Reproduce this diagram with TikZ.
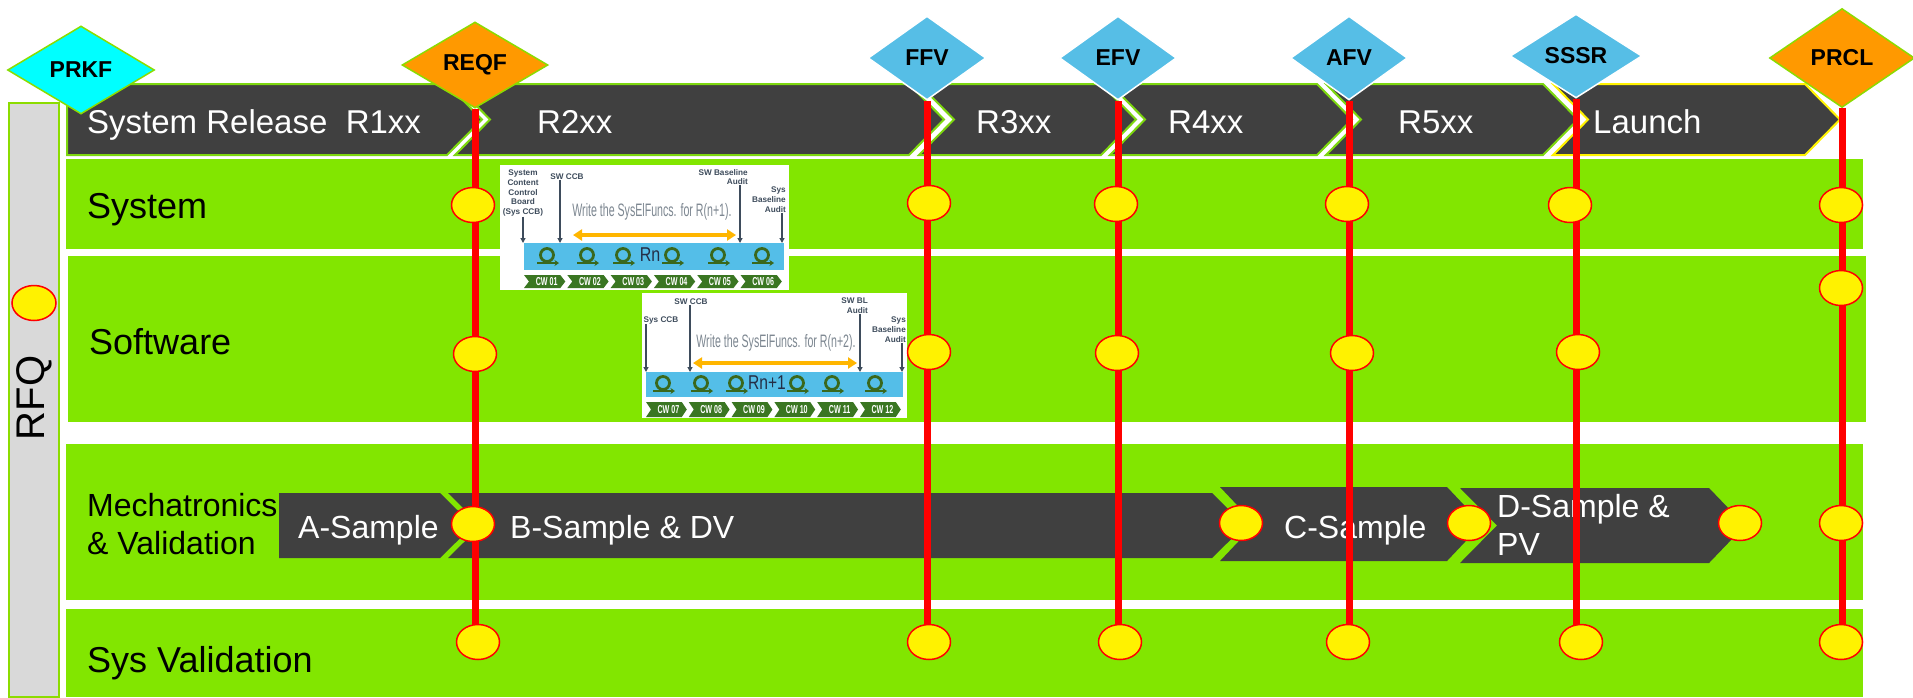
\documentclass[tikz,border=0pt]{standalone}
\usepackage{fontspec}
\usepackage{graphicx}
\setmainfont{Liberation Sans}
\usetikzlibrary{shapes.geometric,arrows.meta}

\definecolor{lanegreen}{RGB}{130,230,0}
\definecolor{chevgrey}{RGB}{64,64,64}
\definecolor{chevedge}{RGB}{125,215,15}
\definecolor{rfqgrey}{RGB}{217,217,217}
\definecolor{gateorange}{RGB}{255,153,0}
\definecolor{gatecyan}{RGB}{0,255,255}
\definecolor{gateblue}{RGB}{86,190,230}
\definecolor{gateedge}{RGB}{140,220,0}
\definecolor{slate}{RGB}{62,76,92}
\definecolor{notegrey}{RGB}{125,135,145}
\definecolor{barblue}{RGB}{84,190,232}
\definecolor{spanorange}{RGB}{255,182,0}
\definecolor{cwgreen}{RGB}{58,118,34}
\definecolor{loopgreen}{RGB}{58,104,28}
\definecolor{navy}{RGB}{36,46,70}

\pgfdeclarelayer{lanes}
\pgfdeclarelayer{links}
\pgfsetlayers{lanes,links,main}

% horizontally condensed text
\newcommand\cond[2]{\scalebox{#1}[1]{#2}}
% iteration loop glyph: #1 x, #2 y
\newcommand\loopmark[2]{%
  \draw[loopline] (#1,#2-2) circle (6.5pt);
  \draw[loopline,-{Stealth[length=4.5pt,width=6pt]}] (#1-10,#2+6) -- (#1+12,#2+6);}
% row of six calendar-week chevrons: #1 x0, #2 top, #3 bottom, #4 pitch, #5 first week
\newcommand\cwrow[5]{%
  \foreach \k in {0,...,5} {
    \pgfmathsetmacro\xa{#1+\k*#4}
    \pgfmathsetmacro\ym{(#2+#3)/2}
    \pgfmathtruncatemacro\nn{#5+\k}
    \fill[cwgreen] (\xa,#2) -- (\xa+#4-7,#2) -- (\xa+#4-2,\ym) -- (\xa+#4-7,#3)
      -- (\xa,#3) -- (\xa+5,\ym) -- cycle;
    \node[cwtext] (cw\nn) at (\xa+#4/2+1,\ym) {\cond{0.62}{CW \ifnum\nn<10 0\fi\nn}};
  }}

\begin{document}
\begin{tikzpicture}[x=1pt,y=-1pt,
  lane/.style={fill=lanegreen},
  chev/.style={fill=chevgrey,draw=chevedge,line width=2pt,line join=miter},
  mchev/.style={fill=chevgrey},
  lanetext/.style={anchor=base west,inner sep=0pt,font=\fontsize{36}{42}\selectfont},
  reltext/.style={anchor=base west,inner sep=0pt,text=white,font=\fontsize{33}{38}\selectfont},
  mechtext/.style={inner sep=0pt,text=white,font=\fontsize{32}{38}\selectfont},
  gate/.style={diamond,inner sep=0pt,line width=1.5pt,font=\fontsize{23}{26}\selectfont\bfseries},
  mstone/.style={ellipse,fill=yellow,draw=red,line width=1.5pt,minimum width=43pt,minimum height=35pt,inner sep=0pt},
  redline/.style={draw=red,line width=7pt},
  tinylbl/.style={inner sep=0pt,text=slate,font=\fontsize{8.2}{9.8}\selectfont\bfseries},
  pin/.style={draw=slate,line width=1.2pt,-{Triangle[length=5pt,width=5pt]}},
  note/.style={inner sep=0pt,text=notegrey,font=\fontsize{18}{20}\selectfont},
  span/.style={draw=spanorange,line width=4pt,{Triangle[length=9pt,width=11pt]}-{Triangle[length=9pt,width=11pt]}},
  bar/.style={fill=barblue,inner sep=0pt},
  loopline/.style={draw=loopgreen,line width=2.8pt},
  cwtext/.style={inner sep=0pt,text=white,font=\fontsize{11.5}{12}\selectfont\bfseries},
  relname/.style={inner sep=0pt,text=navy,font=\fontsize{20}{22}\selectfont}
]
\useasboundingbox (0,0) rectangle (1913,697);

\begin{pgfonlayer}{lanes}
  \fill[white] (0,0) rectangle (1913,697);

  % RFQ column
  \fill[rfqgrey,draw=gateedge,line width=1.5pt] (9,103) rectangle (59,697);
  \node[rotate=90,inner sep=0pt,font=\fontsize{40}{44}\selectfont] (rfq) at (34,398) {RFQ};

  % swim lanes
  \fill[lane] (66,159) rectangle (1863,249);
  \fill[lane] (68,256) rectangle (1866,422);
  \fill[lane] (66,444) rectangle (1863,600);
  \fill[lane] (66,609) rectangle (1863,697);

  \node[lanetext] (lsys) at (87,218) {System};
  \node[lanetext] (lsw) at (89,354) {Software};
  \node[anchor=west,align=left,inner sep=0pt,font=\fontsize{32}{38}\selectfont] (lmech) at (87,524) {Mechatronics\\\& Validation};
  \node[lanetext] (lsv) at (87,672) {Sys Validation};

  % system release chevrons
  \path[chev] (67,84) -- (447,84) -- (482,119.5) -- (447,155) -- (67,155) -- cycle;
  \path[chev] (455,84) -- (909,84) -- (944,119.5) -- (909,155) -- (455,155) -- (490,119.5) -- cycle;
  \path[chev] (919,84) -- (1101,84) -- (1136,119.5) -- (1101,155) -- (919,155) -- (954,119.5) -- cycle;
  \path[chev] (1110,84) -- (1317,84) -- (1352,119.5) -- (1317,155) -- (1110,155) -- (1145,119.5) -- cycle;
  \path[chev] (1326,84) -- (1543,84) -- (1578,119.5) -- (1543,155) -- (1326,155) -- (1361,119.5) -- cycle;
  \path[chev,draw=yellow] (1553,84) -- (1805,84) -- (1840,119.5) -- (1805,155) -- (1553,155) -- (1588,119.5) -- cycle;

  \node[reltext] (r1) at (87,133) {System Release\ \ R1xx};
  \node[reltext] (r2) at (537,133) {R2xx};
  \node[reltext] (r3) at (976,133) {R3xx};
  \node[reltext] (r4) at (1168,133) {R4xx};
  \node[reltext] (r5) at (1398,133) {R5xx};
  \node[reltext] (r6) at (1593,133) {Launch};

  % hardware sample chevrons
  \path[mchev] (279,493) -- (440,493) -- (473,525.5) -- (440,558) -- (279,558) -- cycle;
  \path[mchev] (448,493) -- (1212,493) -- (1245,525.5) -- (1212,558) -- (448,558) -- (481,525.5) -- cycle;
  \path[mchev] (1220,487) -- (1447,487) -- (1482,524) -- (1447,561) -- (1220,561) -- (1255,524) -- cycle;
  \path[mchev] (1460,488) -- (1709,488) -- (1745,525.5) -- (1709,563) -- (1460,563) -- (1497,525.5) -- cycle;

  \node[mechtext,anchor=base west] (ma) at (298,538) {A-Sample};
  \node[mechtext,anchor=base west] (mb) at (510,538) {B-Sample \& DV};
  \node[mechtext,anchor=base west] (mc) at (1284,538) {C-Sample};
  \node[mechtext,anchor=west,align=left] (md) at (1497,525) {D-Sample \&\\PV};

  % sprint plan for Rn
  \fill[white] (500,165) rectangle (789,290);
  \node[tinylbl,align=center] (p1a) at (523,193) {System\\Content\\Control\\Board\\(Sys CCB)};
  \node[tinylbl] (p1b) at (567,177) {SW CCB};
  \node[tinylbl,align=right,anchor=north east] (p1c) at (748,169) {SW Baseline\\Audit};
  \node[tinylbl,align=right,anchor=north east] (p1d) at (786,187) {Sys\\Baseline\\Audit};
  \node[note] (p1n) at (652,212) {\cond{0.59}{Write the SysElFuncs. for R(n+1).}};
  \node[bar,minimum width=260pt,minimum height=27pt] (p1bar) at (654,256.5) {};
  \coordinate (p1t1) at (523,243);
  \coordinate (p1t2) at (560,243);
  \coordinate (p1t3) at (740,243);
  \coordinate (p1t4) at (782,243);
  \draw[pin] (p1t1 |- p1a.south) -- (p1t1);
  \draw[pin] (p1t2 |- p1b.south) -- (p1t2);
  \draw[pin] (p1t3 |- p1c.south) -- (p1t3);
  \draw[pin] (p1t4 |- p1d.south) -- (p1t4);
  \coordinate (p1s) at (573,235);
  \coordinate (p1e) at (736,235);
  \draw[span] (p1s) -- (p1e);
  \foreach \lx in {547,587,623,672,718,762} {\loopmark{\lx}{257}}
  \node[relname] (p1rn) at (650,255) {\cond{0.8}{Rn}};
  \cwrow{524}{275}{288}{43.3}{1}

  % sprint plan for Rn+1
  \fill[white] (642,293) rectangle (907,418);
  \node[tinylbl] (p2a) at (661,320) {Sys CCB};
  \node[tinylbl] (p2b) at (691,302) {SW CCB};
  \node[tinylbl,align=right,anchor=north east] (p2c) at (868,298) {SW BL\\Audit};
  \node[tinylbl,align=right,anchor=north east] (p2d) at (906,317) {Sys\\Baseline\\Audit};
  \node[note] (p2n) at (776,343) {\cond{0.59}{Write the SysElFuncs. for R(n+2).}};
  \node[bar,minimum width=257pt,minimum height=25pt] (p2bar) at (774.5,384.5) {};
  \coordinate (p2t1) at (646,372);
  \coordinate (p2t2) at (690,372);
  \coordinate (p2t3) at (860,372);
  \coordinate (p2t4) at (902,372);
  \draw[pin] (p2t1 |- p2a.south) -- (p2t1);
  \draw[pin] (p2t2 |- p2b.south) -- (p2t2);
  \draw[pin] (p2t3 |- p2c.south) -- (p2t3);
  \draw[pin] (p2t4 |- p2d.south) -- (p2t4);
  \coordinate (p2s) at (693,363);
  \coordinate (p2e) at (857,363);
  \draw[span] (p2s) -- (p2e);
  \foreach \lx in {663,701,736,797,832,875} {\loopmark{\lx}{385}}
  \node[relname] (p2rn) at (767,383) {\cond{0.78}{Rn+1}};
  \cwrow{646}{402}{417}{42.8}{7}
\end{pgfonlayer}

% quality gates
\node[gate,fill=gatecyan,draw=gateedge,minimum width=147pt,minimum height=88pt] (prkf) at (81,70) {PRKF};
\node[gate,fill=gateorange,draw=gateedge,minimum width=146pt,minimum height=86pt] (reqf) at (475,65) {REQF};
\node[gate,fill=gateblue,draw=white,minimum width=118pt,minimum height=84pt] (ffv) at (927,58) {FFV};
\node[gate,fill=gateblue,draw=white,minimum width=117pt,minimum height=84pt] (efv) at (1118,58) {EFV};
\node[gate,fill=gateblue,draw=white,minimum width=117pt,minimum height=84pt] (afv) at (1349,58) {AFV};
\node[gate,fill=gateblue,draw=white,minimum width=132pt,minimum height=84pt] (sssr) at (1576,56) {SSSR};
\node[gate,fill=gateorange,draw=gateedge,minimum width=145pt,minimum height=99pt] (prcl) at (1842,58) {PRCL};

% milestones
\node[mstone,minimum width=44pt] (rfqm) at (34,303) {};

\node[mstone] (reqf-sys) at (473,205) {};
\node[mstone] (reqf-sw) at (475,354) {};
\node[mstone] (reqf-mech) at (473,524) {};
\node[mstone] (reqf-sv) at (478,642) {};

\node[mstone] (ffv-sys) at (929,203) {};
\node[mstone] (ffv-sw) at (929,352) {};
\node[mstone] (ffv-sv) at (929,642) {};

\node[mstone] (efv-sys) at (1116,204) {};
\node[mstone] (efv-sw) at (1117,353) {};
\node[mstone] (efv-sv) at (1120,642) {};

\node[mstone] (afv-sys) at (1347,204) {};
\node[mstone] (afv-sw) at (1352,353) {};
\node[mstone] (afv-sv) at (1348,642) {};

\node[mstone] (sssr-sys) at (1570,205) {};
\node[mstone] (sssr-sw) at (1578,352) {};
\node[mstone] (sssr-sv) at (1581,642) {};

\node[mstone] (prcl-sys) at (1841,205) {};
\node[mstone] (prcl-sw) at (1841,288) {};
\node[mstone] (prcl-mech) at (1841,523) {};
\node[mstone] (prcl-sv) at (1841,642) {};

\node[mstone] (mech-bc) at (1241,523) {};
\node[mstone] (mech-cd) at (1469,523) {};
\node[mstone] (mech-d) at (1740,523) {};

% gate timelines
\begin{pgfonlayer}{links}
  \draw[redline] (reqf.south) -- (reqf.south |- reqf-sv.center);
  \draw[redline] (ffv.south) -- (ffv.south |- ffv-sv.center);
  \draw[redline] (efv.south) -- (efv.south |- efv-sv.center);
  \draw[redline] (afv.south) -- (afv.south |- afv-sv.center);
  \draw[redline] (sssr.south) -- (sssr.south |- sssr-sv.center);
  \draw[redline] (prcl.south) -- (prcl.south |- prcl-sv.center);
\end{pgfonlayer}
\end{tikzpicture}
\end{document}
